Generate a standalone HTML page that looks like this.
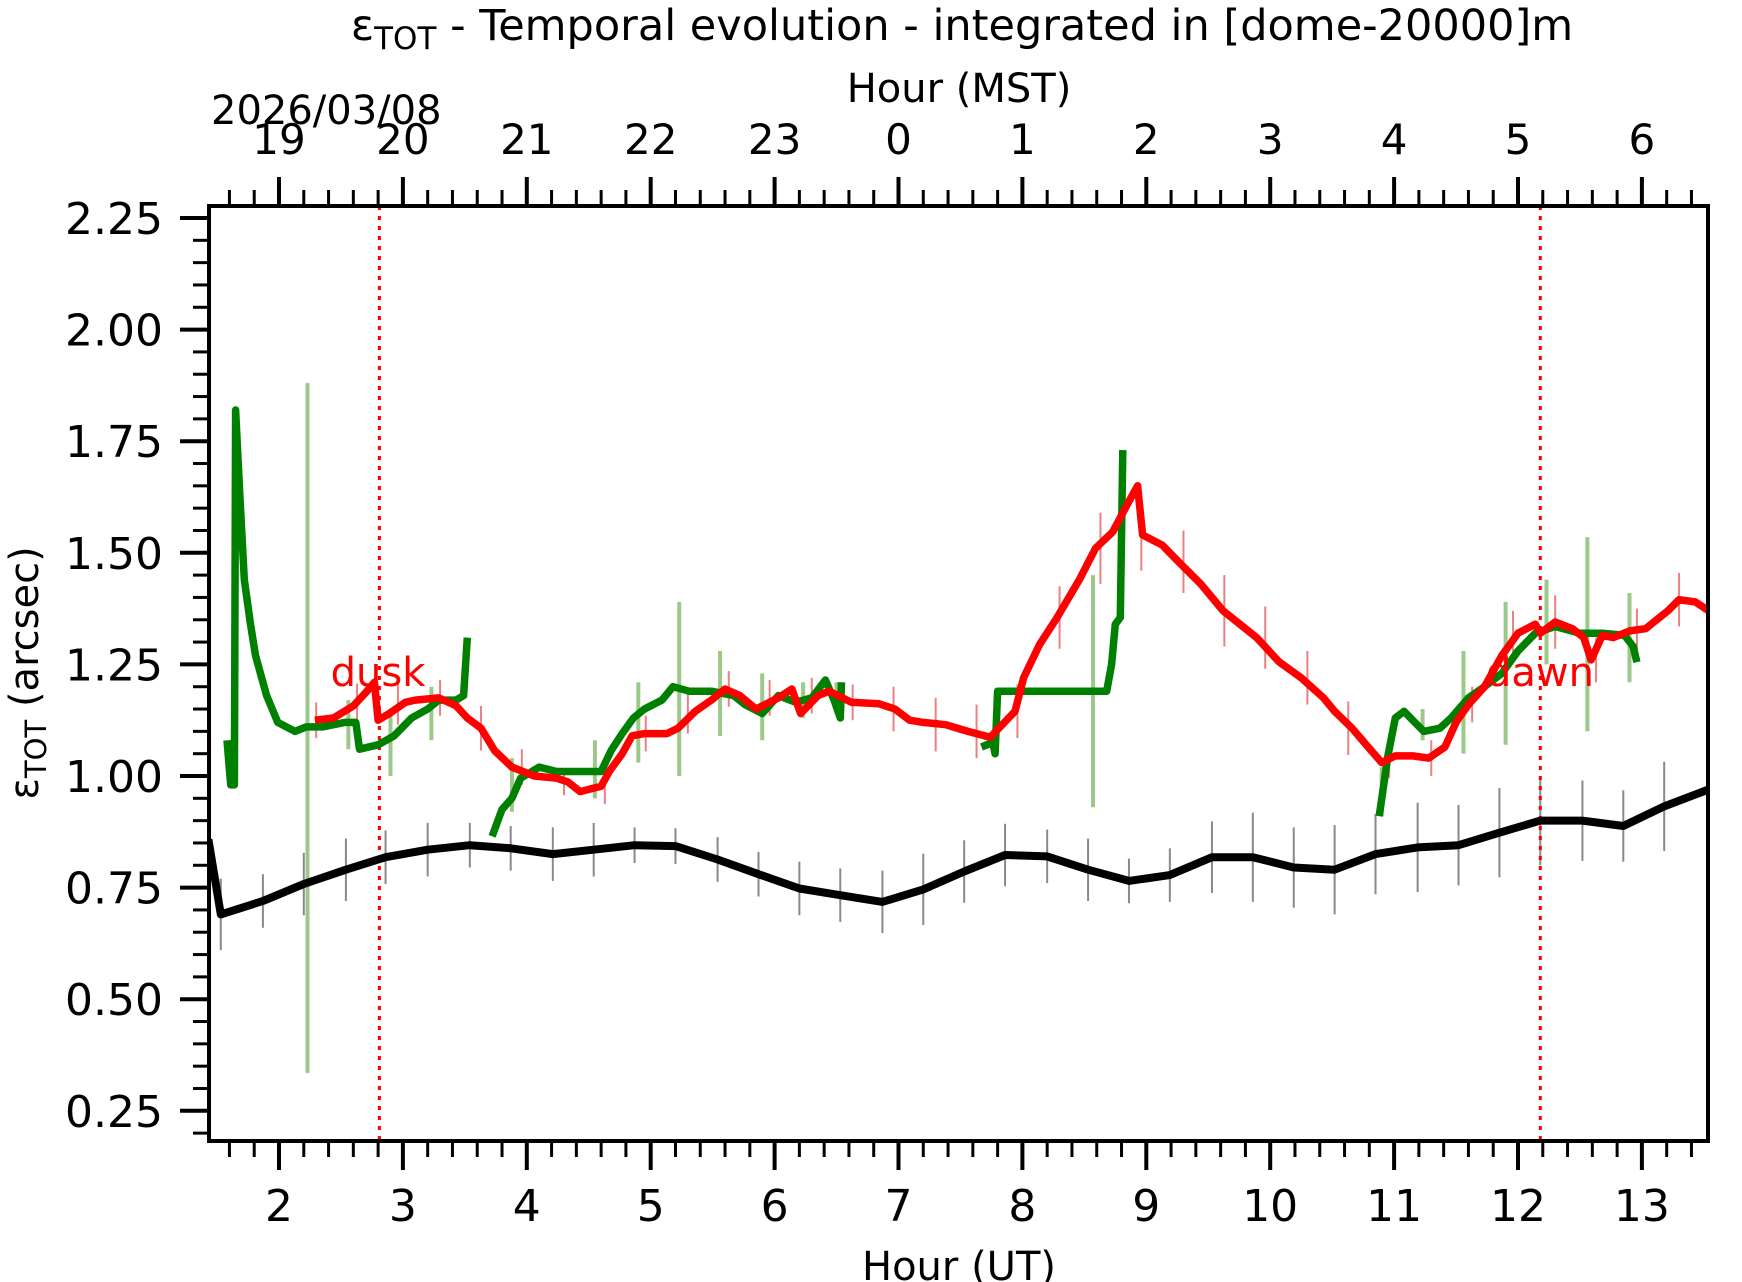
<!DOCTYPE html>
<html><head><meta charset="utf-8"><style>
html,body{margin:0;padding:0;background:#fff;}
svg{display:block;font-family:"DejaVu Sans","Liberation Sans",sans-serif;}
</style></head><body>
<svg id="chart" width="1742" height="1282" viewBox="0 0 1742 1282" xmlns="http://www.w3.org/2000/svg">
<rect width="1742" height="1282" fill="#fff"/>
<g id="marks"></g>
<g id="axes"></g>
<text x="962" y="40" font-size="43" text-anchor="middle">ε<tspan font-size="31" dy="9">TOT</tspan><tspan dy="-9"> - Temporal evolution - integrated in [dome-20000]m</tspan></text>
<text x="959" y="102" font-size="40" text-anchor="middle">Hour (MST)</text>
<text x="211" y="124" font-size="40">2026/03/08</text>
<text x="959" y="1280" font-size="40" text-anchor="middle">Hour (UT)</text>
<text transform="translate(38,673) rotate(-90)" font-size="40" text-anchor="middle">ε<tspan font-size="29" dy="8">TOT</tspan><tspan dy="-8"> (arcsec)</tspan></text>
<text x="378" y="686" font-size="40" fill="#ff0000" text-anchor="middle">dusk</text>
<text x="1540" y="686" font-size="40" fill="#ff0000" text-anchor="middle">dawn</text>
</svg>
<script>
const blackH=[1.43,1.53,1.87,2.2,2.54,2.86,3.2,3.54,3.87,4.21,4.54,4.87,5.2,5.54,5.87,6.2,6.53,6.87,7.2,7.53,7.86,8.2,8.53,8.86,9.19,9.53,9.86,10.19,10.52,10.85,11.19,11.52,11.85,12.18,12.52,12.85,13.18,13.54];
const blackV=[0.858,0.69,0.72,0.758,0.79,0.818,0.835,0.845,0.838,0.825,0.835,0.845,0.843,0.813,0.78,0.748,0.733,0.718,0.746,0.786,0.823,0.82,0.79,0.765,0.778,0.818,0.818,0.795,0.79,0.825,0.84,0.845,0.873,0.9,0.9,0.888,0.932,0.97];
const blackErr=[0.1,0.08,0.06,0.07,0.07,0.06,0.06,0.05,0.05,0.06,0.06,0.04,0.04,0.05,0.05,0.06,0.06,0.07,0.08,0.07,0.07,0.06,0.07,0.05,0.06,0.08,0.1,0.09,0.1,0.09,0.1,0.09,0.1,0.1,0.09,0.08,0.1,0.08];
const greenSegH=[
[1.58,1.61,1.64,1.65,1.686,1.72,1.77,1.81,1.9,1.99,2.13,2.22,2.35,2.53,2.62,2.65,2.8,2.93,3.07,3.2,3.29,3.43,3.49,3.52],
[3.72,3.8,3.88,3.95,4.1,4.24,4.6,4.68,4.77,4.86,4.95,5.09,5.18,5.31,5.49,5.67,5.76,5.9,6.03,6.17,6.3,6.41,6.48,6.53,6.54],
[7.67,7.76,7.78,7.8,8.68,8.72,8.75,8.79,8.81],
[10.88,10.95,11.01,11.08,11.15,11.24,11.37,11.46,11.6,11.73,11.87,12.0,12.14,12.3,12.5,12.68,12.86,12.93,12.96]];
const greenSegV=[
[1.08,0.98,0.98,1.82,1.617,1.44,1.34,1.27,1.18,1.12,1.1,1.11,1.11,1.12,1.12,1.06,1.07,1.09,1.13,1.15,1.17,1.17,1.18,1.31],
[0.865,0.925,0.95,0.995,1.02,1.01,1.01,1.057,1.095,1.13,1.15,1.17,1.2,1.19,1.19,1.18,1.16,1.14,1.18,1.165,1.175,1.215,1.17,1.13,1.21],
[1.065,1.075,1.05,1.19,1.19,1.25,1.34,1.355,1.73],
[0.91,1.045,1.13,1.145,1.125,1.1,1.107,1.13,1.175,1.2,1.23,1.28,1.32,1.335,1.32,1.32,1.315,1.29,1.255]];
const greenBarH=[2.23,2.56,2.9,3.23,3.88,4.55,4.9,5.23,5.56,5.9,6.23,6.5,8.57,10.9,11.23,11.56,11.9,12.23,12.56,12.9];
const greenBarLo=[0.335,1.06,1.0,1.08,0.92,0.95,1.03,1.0,1.09,1.08,1.13,1.14,0.93,0.91,1.08,1.05,1.07,1.25,1.1,1.21];
const greenBarHi=[1.88,1.17,1.14,1.2,1.04,1.08,1.21,1.39,1.28,1.23,1.21,1.21,1.45,1.02,1.15,1.28,1.39,1.44,1.535,1.41];
const redH=[2.29,2.44,2.6,2.71,2.77,2.8,2.89,3.02,3.1,3.29,3.43,3.52,3.63,3.74,3.88,4.06,4.24,4.33,4.43,4.6,4.67,4.77,4.85,4.95,5.13,5.22,5.36,5.49,5.6,5.72,5.85,6.03,6.14,6.21,6.35,6.44,6.62,6.84,6.97,7.09,7.2,7.38,7.56,7.74,7.81,7.94,8.01,8.14,8.28,8.46,8.59,8.73,8.84,8.93,8.97,9.13,9.26,9.44,9.62,9.89,10.07,10.25,10.43,10.52,10.66,10.79,10.9,11.01,11.15,11.28,11.41,11.5,11.6,11.73,11.87,12.0,12.14,12.18,12.3,12.44,12.53,12.59,12.68,12.77,12.9,13.03,13.21,13.3,13.43,13.54];
const redV=[1.125,1.13,1.157,1.19,1.21,1.125,1.14,1.165,1.17,1.175,1.157,1.13,1.107,1.057,1.02,1.0,0.995,0.987,0.965,0.977,1.012,1.05,1.09,1.095,1.095,1.107,1.145,1.17,1.195,1.18,1.15,1.175,1.195,1.14,1.18,1.19,1.165,1.162,1.15,1.125,1.12,1.115,1.1,1.087,1.107,1.145,1.22,1.295,1.355,1.44,1.51,1.547,1.605,1.65,1.54,1.517,1.48,1.43,1.37,1.31,1.256,1.22,1.175,1.145,1.107,1.065,1.03,1.045,1.045,1.04,1.065,1.12,1.16,1.2,1.27,1.32,1.34,1.32,1.345,1.33,1.31,1.26,1.315,1.31,1.325,1.33,1.37,1.395,1.39,1.37];
const redBarH=[2.3,2.63,2.96,3.3,3.63,3.96,4.3,4.63,4.96,5.3,5.63,5.96,6.3,6.63,6.96,7.3,7.63,7.96,8.3,8.63,8.96,9.3,9.63,9.96,10.3,10.63,10.96,11.3,11.63,11.96,12.3,12.63,12.96,13.3,13.54];
const redBarErr=[0.04,0.05,0.05,0.04,0.05,0.04,0.03,0.04,0.04,0.05,0.04,0.04,0.04,0.04,0.05,0.06,0.06,0.06,0.07,0.08,0.08,0.07,0.08,0.07,0.06,0.06,0.05,0.04,0.04,0.05,0.06,0.05,0.05,0.06,0.07];
const yTicks=[0.25,0.5,0.75,1.0,1.25,1.5,1.75,2.0,2.25];
const utTicks=[2,3,4,5,6,7,8,9,10,11,12,13];
const mstLabels=["19","20","21","22","23","0","1","2","3","4","5","6"];
const duskH=2.81, dawnH=12.18;

const NS='http://www.w3.org/2000/svg';
const L=209,R=1708,T=206,B=1141;
const X=h=>279+(h-2)*123.9;
const Y=v=>218+(2.25-v)/0.25*111.6;
const marks=document.getElementById('marks'), axes=document.getElementById('axes');
function el(tag,attrs,parent){const e=document.createElementNS(NS,tag);for(const k in attrs)e.setAttribute(k,attrs[k]);parent.appendChild(e);return e;}
function poly(hs,vs,color,w,name){
  const p=el('polyline',{points:hs.map((h,i)=>X(h).toFixed(1)+','+Y(vs[i]).toFixed(1)).join(' '),fill:'none',stroke:color,'stroke-width':w,'stroke-linejoin':'round'},marks);
  
  
}
const defs=el('defs',{},marks);const cp=el('clipPath',{id:'c'},defs);el('rect',{x:L,y:T,width:R-L,height:B-T},cp);
marks.setAttribute('clip-path','url(#c)');
greenBarH.forEach((h,i)=>{const b=el('line',{x1:X(h),x2:X(h),y1:Y(greenBarLo[i]),y2:Y(greenBarHi[i]),stroke:'#9cc98a','stroke-width':4},marks);

});
redBarH.forEach((h,i)=>{let v=redV.reduce((a,c,j)=>Math.abs(redH[j]-h)<Math.abs(redH[a]-h)?j:a,0);v=redV[v];
const b=el('line',{x1:X(h),x2:X(h),y1:Y(v-redBarErr[i]),y2:Y(v+redBarErr[i]),stroke:'#ec8080','stroke-width':2},marks);

});
blackH.forEach((h,i)=>{const b=el('line',{x1:X(h),x2:X(h),y1:Y(blackV[i]-blackErr[i]),y2:Y(blackV[i]+blackErr[i]),stroke:'#888890','stroke-width':2},marks);

});
[[duskH,'dusk-line'],[dawnH,'dawn-line']].forEach(([h,n])=>{const d=el('line',{x1:X(h),x2:X(h),y1:T,y2:B,stroke:'#ff0000','stroke-width':3,'stroke-dasharray':'4,6'},marks);

});
poly(blackH,blackV,'#000',8,'black-series-line');
greenSegH.forEach((hs,i)=>poly(hs,greenSegV[i],'#008000',7.5,'green-series-line'));
poly(redH,redV,'#ff0000',7.5,'red-series-line');
const fr=el('rect',{x:L,y:T,width:R-L,height:B-T,fill:'none',stroke:'#000','stroke-width':4},axes);


for(let k=0;k<=45;k++){const v=0.2+k*0.05;const y=Y(v);if(y<T-1||y>B+1)continue;const maj=Math.abs((v/0.25)-Math.round(v/0.25))<1e-6;
el('line',{x1:L-(maj?29:16),x2:L,y1:y,y2:y,stroke:'#000','stroke-width':maj?4:3},axes);}
yTicks.forEach(v=>{const t=el('text',{x:163,y:Y(v)+16,'font-size':44,'text-anchor':'end'},axes);t.textContent=v.toFixed(2);

});
for(let k=0;k<=70;k++){const h=1.4+k*0.2;const x=X(h);if(x<L+2||x>R-2)continue;const maj=Math.abs(h-Math.round(h))<1e-6;
el('line',{x1:x,x2:x,y1:B,y2:B+(maj?29:16),stroke:'#000','stroke-width':maj?4:3},axes);
el('line',{x1:x,x2:x,y1:T,y2:T-(maj?29:16),stroke:'#000','stroke-width':maj?4:3},axes);}
utTicks.forEach((h,i)=>{const t=el('text',{x:X(h),y:1221,'font-size':44,'text-anchor':'middle'},axes);t.textContent=h;


const m=el('text',{x:X(h),y:154,'font-size':42,'text-anchor':'middle'},axes);m.textContent=mstLabels[i];

});
</script>
</body></html>
